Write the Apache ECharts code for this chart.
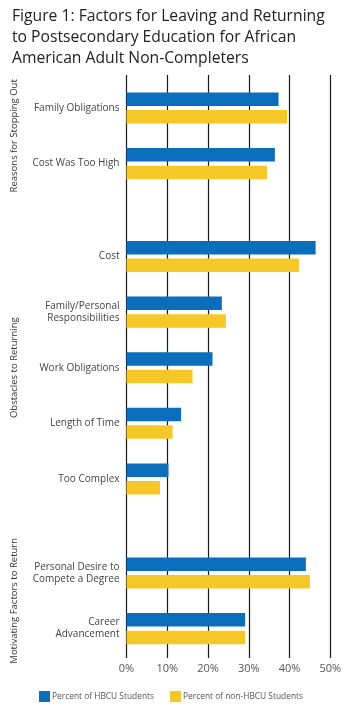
<!DOCTYPE html>
<html>
<head>
<meta charset="utf-8">
<script src="https://cdn.jsdelivr.net/npm/echarts@6/dist/echarts.min.js"></script>
<style>
html,body{margin:0;padding:0;background:#fff;}
#chart{width:355px;height:706px;}
</style>
</head>
<body>
<div id="chart"></div>
<script>
// ---- data ----
const titleText = "Figure 1: Factors for Leaving and Returning\nto Postsecondary Education for African\nAmerican Adult Non-Completers";
const seriesNames = ["Percent of HBCU Students", "Percent of non-HBCU Students"];
const groupNames = ["Reasons for Stopping Out", "Obstacles to Returning", "Motivating Factors to Return"];

const stoppingCats = ["Family Obligations", "Cost Was Too High"];
const stoppingHBCU = [37.3, 36.4];
const stoppingNonHBCU = [39.4, 34.5];

const obstacleCats = ["Cost", "Family/Personal\nResponsibilities", "Work Obligations", "Length of Time", "Too Complex"];
const obstacleHBCU = [46.4, 23.4, 21.1, 13.4, 10.3];
const obstacleNonHBCU = [42.3, 24.4, 16.2, 11.3, 8.2];

const motivatingCats = ["Personal Desire to\nCompete a Degree", "Career\nAdvancement"];
const motivatingHBCU = [44.0, 29.1];
const motivatingNonHBCU = [45.0, 29.1];

const xTicks = [0, 10, 20, 30, 40, 50];

// ---- styling ----
const BLUE = "#0a6ebd";
const YELLOW = "#f5c828";
const FONT = "Open Sans";
const LEFT = 126.5, RIGHT = 24.7;
const BAND = 55.6;

const groups = [
  {name: groupNames[0], cats: stoppingCats, a: stoppingHBCU, b: stoppingNonHBCU, top: 80.2},
  {name: groupNames[1], cats: obstacleCats, a: obstacleHBCU, b: obstacleNonHBCU, top: 228.7},
  {name: groupNames[2], cats: motivatingCats, a: motivatingHBCU, b: motivatingNonHBCU, top: 545.2}
];

const grid = [{left: LEFT, right: RIGHT, top: 75, bottom: 48}];
const xAxis = [{
  gridIndex: 0, type: 'value', min: xTicks[0], max: xTicks[xTicks.length - 1], interval: 10,
  axisLine: {show: false}, axisTick: {show: false},
  splitLine: {show: true, lineStyle: {color: '#1a1a1a', width: 1.2}},
  axisLabel: {formatter: '{value}%', color: '#555', fontFamily: FONT, fontSize: 11, margin: 5}
}];
const yAxis = [{gridIndex: 0, type: 'category', data: [''], show: false}];
const series = [];

groups.forEach((g, i) => {
  const gi = i + 1;
  grid.push({left: LEFT, right: RIGHT, top: g.top, height: BAND * g.cats.length});
  xAxis.push({gridIndex: gi, type: 'value', min: 0, max: 50, show: false, splitLine: {show: false}});
  yAxis.push({
    gridIndex: gi, type: 'category', data: g.cats, inverse: true,
    axisLine: {show: false}, axisTick: {show: false}, splitLine: {show: false},
    axisLabel: {color: '#444', fontFamily: FONT, fontSize: 10, margin: 7, lineHeight: 12},
    name: g.name, nameLocation: 'middle', nameRotate: 90, nameGap: 107,
    nameTextStyle: {color: '#333', fontFamily: FONT, fontSize: 9.5}
  });
  series.push({
    name: seriesNames[0], type: 'bar', xAxisIndex: gi, yAxisIndex: gi, data: g.a,
    barWidth: 13.5, barGap: '30%', itemStyle: {color: BLUE}, silent: true
  });
  series.push({
    name: seriesNames[1], type: 'bar', xAxisIndex: gi, yAxisIndex: gi, data: g.b,
    barWidth: 13.5, barGap: '30%', itemStyle: {color: YELLOW}, silent: true
  });
});

const chart = echarts.init(document.getElementById('chart'), null, {renderer: 'canvas'});
chart.setOption({
  animation: false,
  backgroundColor: '#fff',
  title: {
    text: titleText, left: 7, top: 1,
    textStyle: {fontFamily: FONT, fontWeight: 'normal', fontSize: 15.7, lineHeight: 21, color: '#222'}
  },
  legend: {
    data: seriesNames, left: 34, top: 686, itemWidth: 11, itemHeight: 11, itemGap: 16,
    icon: 'rect', selectedMode: false,
    textStyle: {fontFamily: FONT, fontSize: 8.4, color: '#555', padding: [0, 0, 0, -3]}
  },
  grid: grid, xAxis: xAxis, yAxis: yAxis, series: series
});
</script>
</body>
</html>
